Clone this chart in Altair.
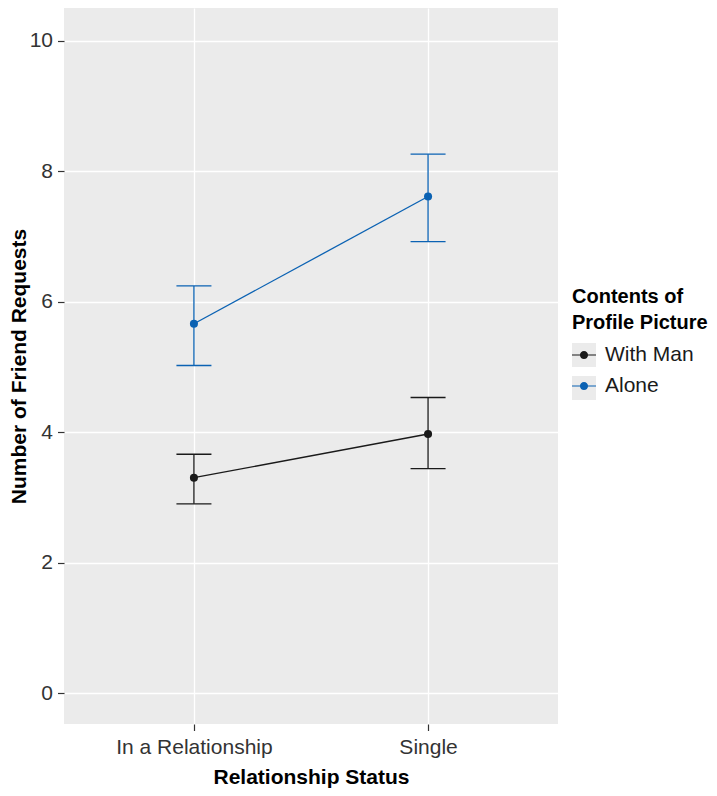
import altair as alt
import pandas as pd

status = ["In a Relationship", "Single"]
groups = ["With Man", "Alone"]
mean_with_man = [3.30, 3.97]
low_with_man = [2.90, 3.44]
high_with_man = [3.66, 4.53]
mean_alone = [5.66, 7.61]
low_alone = [5.02, 6.92]
high_alone = [6.24, 8.26]
y_ticks = [0, 2, 4, 6, 8, 10]
colors = ["#1A1A1A", "#0B62B3"]

rows = []
for g, m, lo, hi in [("With Man", mean_with_man, low_with_man, high_with_man),
                     ("Alone", mean_alone, low_alone, high_alone)]:
    for s, mv, lv, hv in zip(status, m, lo, hi):
        rows.append(dict(status=s, group=g, key=g, mean=mv, low=lv, high=hv))
df = pd.DataFrame(rows)

FONT = "Liberation Sans"
FS = 21

x = alt.X("status:N",
          scale=alt.Scale(type="point", padding=0.555, domain=status),
          axis=alt.Axis(title="Relationship Status", labelAngle=0, labelPadding=6,
                        titlePadding=9, grid=True))
y_scale = alt.Scale(domain=[-0.475, 10.5], nice=False, zero=False)
y_axis = alt.Axis(title="Number of Friend Requests", values=y_ticks, labelPadding=5,
                  titlePadding=0, grid=True)
color_scale = alt.Scale(domain=groups, range=colors)

key_path = ("M-1,-0.045H1V0.045H-1Z "
            "M-0.34,0A0.34,0.34 0 1,1 0.34,0A0.34,0.34 0 1,1 -0.34,0Z")
title_lines = ["Contents of", "Profile Picture"]
LX, LY = 508, 279

common = dict(
    orient="none", legendX=LX, legendY=LY,
    symbolSize=576, symbolStrokeWidth=0,
    titleFont=FONT, titleFontSize=20, titleFontWeight="bold",
    titleLineHeight=26, titlePadding=10, titleLimit=400,
    labelFont=FONT, labelFontSize=FS, labelOffset=9,
    labelLimit=400, rowPadding=9,
)

color_legend = alt.Legend(title=title_lines, symbolType=key_path, titleColor="black",
                          labelColor="#1A1A1A", zindex=2, **common)

grey_legend = alt.Legend(title=[" ", " "], symbolType="square", symbolFillColor="#EBEBEB",
                         symbolStrokeColor="transparent", titleColor="transparent",
                         labelExpr="''", labelColor="transparent", zindex=1, **common)

base = alt.Chart(df)
color_enc = alt.Color("group:N", scale=color_scale, legend=color_legend)

points = base.mark_point(filled=True, size=65, opacity=1).encode(
    x=x,
    y=alt.Y("mean:Q", scale=y_scale, axis=y_axis),
    color=color_enc,
    opacity=alt.Opacity("key:N", scale=alt.Scale(range=[1, 1]),
                        legend=grey_legend),
)

lines = base.mark_line(strokeWidth=1.3).encode(
    x=x,
    y=alt.Y("mean:Q", scale=y_scale, axis=y_axis),
    color=color_enc,
)

rules = base.mark_rule(strokeWidth=1.3).encode(
    x=x,
    y=alt.Y("low:Q", scale=y_scale, axis=y_axis),
    y2="high:Q",
    color=color_enc,
)

caps_low = base.mark_tick(size=35, thickness=1.3, opacity=1).encode(
    x=x,
    y=alt.Y("low:Q", scale=y_scale, axis=y_axis),
    color=color_enc,
)
caps_high = base.mark_tick(size=35, thickness=1.3, opacity=1).encode(
    x=x,
    y=alt.Y("high:Q", scale=y_scale, axis=y_axis),
    color=color_enc,
)

chart = alt.layer(points, lines, rules, caps_low, caps_high).properties(
    width=494, height=716,
    autosize=alt.AutoSizeParams(type="none"),
    padding={"left": 56, "top": 0, "right": 151, "bottom": 64},
).configure_view(
    stroke=None, fill="#EBEBEB"
).configure_axis(
    domain=False, gridColor="white", gridWidth=1.3,
    tickColor="#333333", tickSize=6.5, tickWidth=1.2,
    labelFont=FONT, labelFontSize=FS, labelColor="#333333",
    titleFont=FONT, titleFontSize=FS, titleFontWeight="bold", titleColor="black",
)

chart.save("out.html", embed_options={"renderer": "svg", "actions": False})
